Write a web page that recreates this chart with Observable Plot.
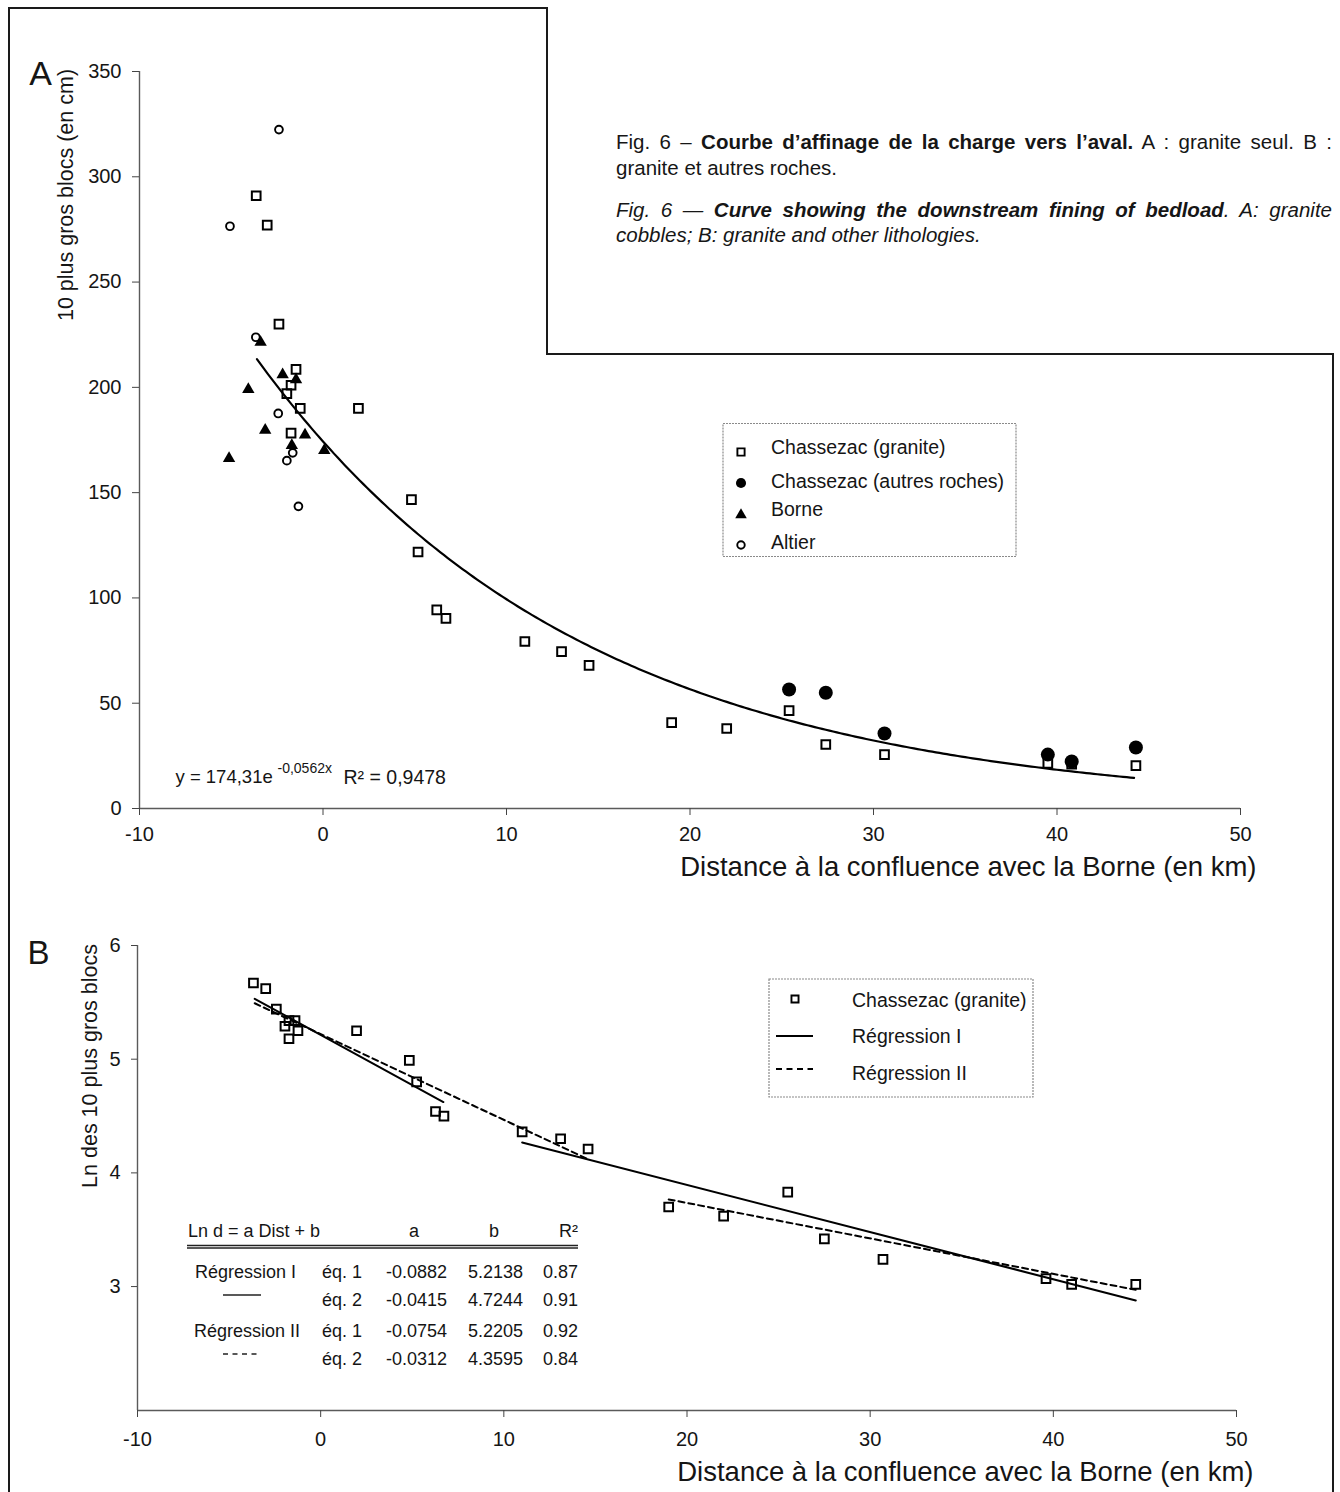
<!DOCTYPE html>
<html><head><meta charset="utf-8">
<script src="https://cdn.jsdelivr.net/npm/d3@7"></script>
<script src="https://cdn.jsdelivr.net/npm/@observablehq/plot@0.6"></script>
<style>
html,body{margin:0;padding:0;background:#fff;overflow:hidden;}
#page{position:relative;width:1340px;height:1492px;background:#fff;font-family:"Liberation Sans",Arial,Helvetica,sans-serif;color:#161616;}
#page > svg{position:absolute;left:0;}
.cap{position:absolute;left:616px;top:129px;width:716px;font-size:20.5px;line-height:25.5px;}
.cap .j{text-align:justify;text-align-last:justify;}
.cap .gap{margin-top:16.5px;}
</style></head>
<body><div id="page">
<div class="cap">
  <div class="j">Fig. 6 – <b>Courbe d’affinage de la charge vers l’aval.</b> A : granite seul. B :</div>
  <div>granite et autres roches.</div>
  <div class="j gap"><i>Fig. 6 — <b>Curve showing the downstream fining of bedload</b>. A: granite</i></div>
  <div><i>cobbles; B: granite and other lithologies.</i></div>
</div>
</div>
<script>
// ---------- data ----------
const xTicks = [-10, 0, 10, 20, 30, 40, 50];
const yTicksA = [0, 50, 100, 150, 200, 250, 300, 350];
const yTicksB = [3, 4, 5, 6];

// Panel A : 10 plus gros blocs (cm)
const graniteAx = [-3.64, -3.04, -2.40, -1.47, -1.74, -1.97, -1.24, -1.74, 1.93, 4.82, 5.18, 6.20, 6.70, 11.0, 13.0, 14.5, 19.0, 22.0, 25.4, 27.4, 30.6, 39.5, 40.8, 44.3];
const graniteAy = [291, 277, 230, 208.5, 201, 197, 190, 178.3, 190, 146.7, 121.8, 94.3, 90.3, 79.3, 74.5, 68, 40.8, 38, 46.5, 30.4, 25.6, 21.4, 21, 20.4];
const autresX = [25.4, 27.4, 30.6, 39.5, 40.8, 44.3];
const autresY = [56.5, 55, 35.6, 25.6, 22.3, 29];
const borneX = [-3.4, -4.07, -2.2, -1.47, -3.15, -0.98, -1.7, 0.07, -5.12];
const borneY = [221.4, 199, 206, 203.6, 179.7, 177.4, 172.4, 170, 166.3];
const altierX = [-2.4, -5.07, -3.66, -2.44, -1.65, -1.97, -1.34];
const altierY = [322.4, 276.5, 223.8, 187.6, 168.9, 165.2, 143.5];
const expCoef = 174.31, expRate = -0.0562, expR2 = "0,9478";
const expRange = [-3.6, 44.3];

// Panel B : Ln des 10 plus gros blocs
const graniteBx = [-3.67, -3.0, -2.42, -1.73, -1.4, -1.95, -1.24, -1.73, 1.96, 4.84, 5.24, 6.27, 6.73, 11.0, 13.1, 14.6, 19.0, 22.0, 25.5, 27.5, 30.7, 39.6, 41.0, 44.5];
const graniteBy = [5.67, 5.62, 5.44, 5.34, 5.34, 5.29, 5.25, 5.18, 5.25, 4.99, 4.80, 4.54, 4.50, 4.36, 4.30, 4.21, 3.70, 3.62, 3.83, 3.42, 3.24, 3.07, 3.02, 3.02];
const eqLabels = ["éq. 1", "éq. 2"];
const regNames = ["Régression I", "Régression II"];
const regI_a = [-0.0882, -0.0415], regI_b = [5.2138, 4.7244], regI_r2 = [0.87, 0.91];
const regII_a = [-0.0754, -0.0312], regII_b = [5.2205, 4.3595], regII_r2 = [0.92, 0.84];
const regI_range = [[-3.6, 6.7], [11.0, 44.5]];
const regII_range = [[-3.6, 14.6], [19.0, 44.5]];

const legendA = ["Chassezac (granite)", "Chassezac (autres roches)", "Borne", "Altier"];
const legendB = ["Chassezac (granite)", "Régression I", "Régression II"];
const titleX = "Distance à la confluence avec la Borne (en km)";
const titleYA = "10 plus gros blocs (en cm)";
const titleYB = "Ln des 10 plus gros blocs";

// ---------- helpers ----------
const FF = '"Liberation Sans", Arial, Helvetica, sans-serif';
const pts = (xs, ys) => xs.map((x, i) => ({x, y: ys[i]}));
const fmtTick = d => String(d);
const page = document.getElementById("page");

// ---------- Panel A ----------
const curvePts = d3.range(expRange[0], expRange[1] + 0.001, 0.2).map(x => ({x, y: expCoef * Math.exp(expRate * x)}));
const plotA = Plot.plot({
  width: 1340, height: 900,
  marginTop: 71, marginBottom: 92, marginLeft: 139, marginRight: 100,
  style: {fontFamily: FF, background: "transparent", color: "#151515", overflow: "visible"},
  x: {domain: [-10, 50]},
  y: {domain: [0, 350]},
  marks: [
    Plot.ruleX([-10], {stroke: "#5a5a5a", strokeWidth: 1.4}),
    Plot.ruleY([0], {stroke: "#5a5a5a", strokeWidth: 1.4}),
    Plot.axisY({ticks: yTicksA, tickSize: 7, tickPadding: 11, fontSize: 20, label: null, tickFormat: fmtTick, stroke: "#444"}),
    Plot.axisX({ticks: xTicks, tickSize: 7, tickPadding: 11, fontSize: 20, label: null, tickFormat: fmtTick, stroke: "#444"}),
    Plot.line(curvePts, {x: "x", y: "y", stroke: "#000", strokeWidth: 2.2}),
    Plot.dot(pts(graniteAx, graniteAy), {x: "x", y: "y", symbol: "square", r: 4.9, stroke: "#000", strokeWidth: 2, fill: "none"}),
    Plot.dot(pts(altierX, altierY), {x: "x", y: "y", symbol: "circle", r: 3.9, stroke: "#000", strokeWidth: 1.9, fill: "none"}),
    Plot.dot(pts(borneX, borneY), {x: "x", y: "y", symbol: "triangle", r: 4.6, fill: "#000", stroke: "none"}),
    Plot.dot(pts(autresX, autresY), {x: "x", y: "y", symbol: "circle", r: 7, fill: "#000", stroke: "none"}),
    Plot.text([titleX], {text: d => d, frameAnchor: "bottom-right", textAnchor: "end", lineAnchor: "middle", dx: 16, dy: 59, fontSize: 27.5, fill: "#151515"}),
    Plot.text([titleYA], {text: d => d, frameAnchor: "top-left", rotate: -90, textAnchor: "middle", lineAnchor: "middle", dx: -73, dy: 123.5, fontSize: 21.5, fill: "#151515"}),
    Plot.text(["A"], {text: d => d, frameAnchor: "top-left", textAnchor: "middle", lineAnchor: "middle", dx: -99, dy: 3, fontSize: 34, fill: "#151515"}),
    Plot.text(["y = 174,31e"], {text: d => d, frameAnchor: "bottom-left", textAnchor: "start", lineAnchor: "middle", dx: 36, dy: -31, fontSize: 18.5, fill: "#151515"}),
    Plot.text([String(expRate).replace(".", ",") + "x"], {text: d => d, frameAnchor: "bottom-left", textAnchor: "start", lineAnchor: "middle", dx: 138, dy: -40, fontSize: 14, fill: "#151515"}),
    Plot.text(["R² = " + expR2], {text: d => d, frameAnchor: "bottom-left", textAnchor: "start", lineAnchor: "middle", dx: 204, dy: -31, fontSize: 19.5, fill: "#151515"})
  ]
});
plotA.style.top = "0px";
page.appendChild(plotA);

// ---------- Panel B ----------
const segs = (ranges, as, bs) => ranges.flatMap(([x0, x1], i) => [x0, x1].map(x => ({x, y: as[i] * x + bs[i], seg: i})));
const yMinB = 1.91;
const plotB = Plot.plot({
  width: 1340, height: 592,
  marginTop: 45, marginBottom: 82, marginLeft: 137, marginRight: 104,
  style: {fontFamily: FF, background: "transparent", color: "#151515", overflow: "visible"},
  x: {domain: [-10, 50]},
  y: {domain: [yMinB, 6]},
  marks: [
    Plot.ruleX([-10], {stroke: "#5a5a5a", strokeWidth: 1.4}),
    Plot.ruleY([yMinB], {stroke: "#5a5a5a", strokeWidth: 1.4}),
    Plot.axisY({ticks: yTicksB, tickSize: 6, tickPadding: 11, fontSize: 20, label: null, tickFormat: fmtTick, stroke: "#444"}),
    Plot.axisX({ticks: xTicks, tickSize: 7, tickPadding: 14, fontSize: 20, label: null, tickFormat: fmtTick, stroke: "#444"}),
    Plot.line(segs(regII_range, regII_a, regII_b), {x: "x", y: "y", z: "seg", stroke: "#000", strokeWidth: 2, strokeDasharray: "6,4"}),
    Plot.line(segs(regI_range, regI_a, regI_b), {x: "x", y: "y", z: "seg", stroke: "#000", strokeWidth: 2}),
    Plot.dot(pts(graniteBx, graniteBy), {x: "x", y: "y", symbol: "square", r: 4.9, stroke: "#000", strokeWidth: 2, fill: "none"}),
    Plot.text([titleX], {text: d => d, frameAnchor: "bottom-right", textAnchor: "end", lineAnchor: "middle", dx: 17, dy: 62, fontSize: 27.5, fill: "#151515"}),
    Plot.text([titleYB], {text: d => d, frameAnchor: "top-left", rotate: -90, textAnchor: "middle", lineAnchor: "middle", dx: -47, dy: 120.5, fontSize: 21.5, fill: "#151515"}),
    Plot.text(["B"], {text: d => d, frameAnchor: "top-left", textAnchor: "middle", lineAnchor: "middle", dx: -99, dy: 8, fontSize: 33, fill: "#151515"})
  ]
});
plotB.style.top = "900px";
page.appendChild(plotB);

// ---------- overlay: frame, legends, table ----------
const ov = d3.create("svg").attr("width", 1340).attr("height", 1492)
  .style("top", "0px").style("pointer-events", "none")
  .attr("font-family", FF).attr("fill", "#151515");
// page frame
ov.append("path").attr("d", "M9,1492V8H547V354H1333V1492").attr("fill", "none").attr("stroke", "#1a1a1a").attr("stroke-width", 2);

// legend A
ov.append("rect").attr("x", 723).attr("y", 423.5).attr("width", 293).attr("height", 133)
  .attr("fill", "none").attr("stroke", "#8a8a8a").attr("stroke-width", 1.2).attr("stroke-dasharray", "2,1");
const legAy = [447, 481, 509, 542];
const legAsym = [
  {t: d3.symbolSquare, s: 52, fill: "none", stroke: "#000", dy: 5},
  {t: d3.symbolCircle, s: 80, fill: "#000", stroke: "none", dy: 2},
  {t: d3.symbolTriangle, s: 58, fill: "#000", stroke: "none", dy: 6},
  {t: d3.symbolCircle, s: 44, fill: "none", stroke: "#000", dy: 3}
];
legendA.forEach((lab, i) => {
  const sy = legAsym[i];
  ov.append("path").attr("d", d3.symbol(sy.t, sy.s)()).attr("transform", `translate(741,${legAy[i] + sy.dy})`)
    .attr("fill", sy.fill).attr("stroke", sy.stroke).attr("stroke-width", 1.9);
  ov.append("text").attr("x", 771).attr("y", legAy[i]).attr("dy", "0.35em").attr("font-size", 19.5).text(lab);
});

// legend B
ov.append("rect").attr("x", 769).attr("y", 979).attr("width", 264).attr("height", 118)
  .attr("fill", "none").attr("stroke", "#8a8a8a").attr("stroke-width", 1.2).attr("stroke-dasharray", "2,1");
const legBy = [1000, 1036, 1073];
ov.append("path").attr("d", d3.symbol(d3.symbolSquare, 50)()).attr("transform", "translate(795,999)")
  .attr("fill", "none").attr("stroke", "#000").attr("stroke-width", 1.9);
ov.append("line").attr("x1", 776).attr("x2", 813).attr("y1", 1036).attr("y2", 1036).attr("stroke", "#000").attr("stroke-width", 2);
ov.append("line").attr("x1", 776).attr("x2", 813).attr("y1", 1069).attr("y2", 1069).attr("stroke", "#000").attr("stroke-width", 2).attr("stroke-dasharray", "6,4.5");
legendB.forEach((lab, i) => {
  ov.append("text").attr("x", 852).attr("y", legBy[i]).attr("dy", "0.35em").attr("font-size", 19.5).text(lab);
});

// regression table
const tfs = 18;
const T = (x, y, s, anchor) => ov.append("text").attr("x", x).attr("y", y).attr("dy", "0.35em")
  .attr("font-size", tfs).attr("text-anchor", anchor || "start").text(s);
T(188, 1231, "Ln d = a Dist + b");
T(414, 1231, "a", "middle");
T(494, 1231, "b", "middle");
T(578, 1231, "R²", "end");
ov.append("line").attr("x1", 187).attr("x2", 578).attr("y1", 1245.5).attr("y2", 1245.5).attr("stroke", "#222").attr("stroke-width", 1.3);
ov.append("line").attr("x1", 187).attr("x2", 578).attr("y1", 1248).attr("y2", 1248).attr("stroke", "#222").attr("stroke-width", 1.3);
const rowY = [1272, 1300, 1331, 1359];
const tableRows = [
  {a: regI_a, b: regI_b, r2: regI_r2},
  {a: regII_a, b: regII_b, r2: regII_r2}
];
tableRows.forEach((reg, k) => {
  T(k === 0 ? 195 : 194, rowY[2 * k], regNames[k]);
  const ls = ov.append("line").attr("x1", 223).attr("x2", 261).attr("y1", rowY[2 * k + 1] - 5).attr("y2", rowY[2 * k + 1] - 5)
    .attr("stroke", "#222").attr("stroke-width", 1.6);
  if (k === 1) ls.attr("stroke-dasharray", "5,4.5");
  [0, 1].forEach(j => {
    const y = rowY[2 * k + j];
    T(322, y, eqLabels[j]);
    T(447, y, reg.a[j].toFixed(4), "end");
    T(523, y, reg.b[j].toFixed(4), "end");
    T(578, y, reg.r2[j].toFixed(2), "end");
  });
});
page.appendChild(ov.node());
</script>
</body></html>
